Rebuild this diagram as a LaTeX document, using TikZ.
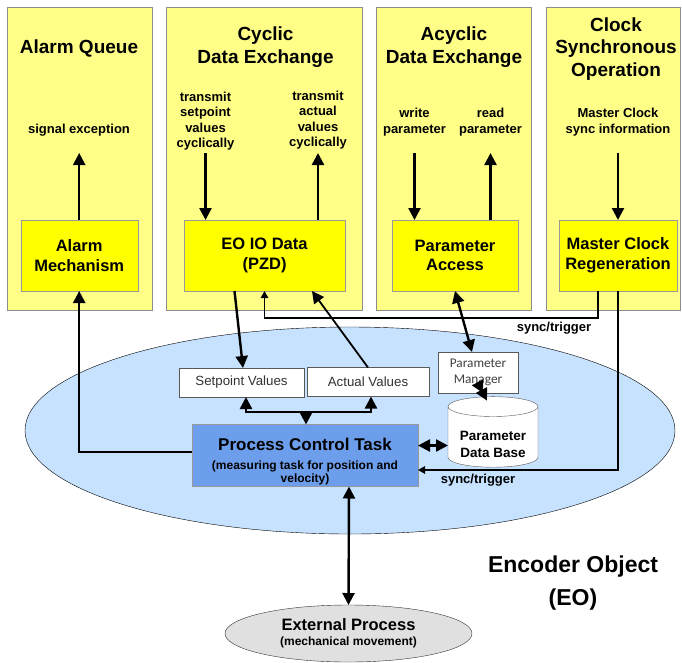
\documentclass[tikz,border=0pt]{standalone}
\usepackage{fontspec}
\setmainfont{Liberation Sans}
\newfontfamily\calfont{Carlito}
\usepackage{xcolor}
\usepackage{tikz}
\usetikzlibrary{arrows.meta,shapes.geometric}

\definecolor{colyellow}{HTML}{FFFF88}
\definecolor{boxyellow}{HTML}{FFFF00}
\definecolor{eoblue}{HTML}{C6E2FF}
\definecolor{taskblue}{HTML}{6D9EEB}
\definecolor{extgray}{HTML}{E0E0E0}

\begin{document}
\begin{tikzpicture}[
  x=1pt, y=-1pt,
  >={Triangle[length=12pt, width=12pt]},
  every node/.style={align=center, inner sep=0pt, outer sep=0pt},
  column/.style={draw=black!45, fill=colyellow, anchor=north west, minimum height=303pt},
  title/.style={font=\fontsize{19}{22.5}\selectfont\bfseries},
  hint/.style={font=\fontsize{13}{15.5}\selectfont\bfseries},
  block/.style={draw=black!40, fill=boxyellow, minimum height=71pt, font=\fontsize{16.5}{19.5}\selectfont\bfseries},
  valbox/.style={draw=black!65, fill=white, minimum height=29pt, text=black!80, font=\fontsize{13.3}{16}\selectfont},
  arrow/.style={->, line width=2.4pt},
  sync/.style={->, line width=1.4pt, >={Triangle[length=7pt, width=7.5pt]}}
]
\useasboundingbox (0,0) rectangle (682,662);

% columns
\node[column, minimum width=145pt] (qcol) at (7,7) {};
\node[column, minimum width=196pt] (ccol) at (166,7) {};
\node[column, minimum width=155pt] (acol) at (376,7) {};
\node[column, minimum width=134pt] (scol) at (546,7) {};

\node[title] (qtitle) at (79,48) {Alarm Queue};
\node[title] (ctitle) at (265.5,47) {Cyclic\\Data Exchange};
\node[title] (atitle) at (454,47) {Acyclic\\Data Exchange};
\node[title] (stitle) at (616,49) {Clock\\Synchronous\\Operation};

\node[hint] (sigexc) at (79,130) {signal exception};
\node[hint] (txset) at (205.5,121) {transmit\\setpoint\\values\\cyclically};
\node[hint] (txact) at (318,120) {transmit\\actual\\values\\cyclically};
\node[hint] (wpar) at (414.5,122) {write\\parameter};
\node[hint] (rpar) at (490.5,122) {read\\parameter};
\node[hint] (mcinfo) at (618,122) {Master Clock\\sync information};

\node[block, minimum width=117pt] (alarm) at (79.2,255.5) {Alarm\\Mechanism};
\node[block, minimum width=161pt] (eoio) at (264.5,255.5) {EO IO Data\\(PZD)};
\node[block, minimum width=126pt] (pacc) at (455,255.5) {Parameter\\Access};
\node[block, minimum width=118pt] (mclk) at (618,255.5) {Master Clock\\Regeneration};

\coordinate (lvl) at (0,153);

% encoder object
\node[draw, ellipse, fill=eoblue, minimum width=650pt, minimum height=207pt] (eo) at (350,430.5) {};
\node[font=\fontsize{23}{33}\selectfont\bfseries] (eolbl) at (573,583) {Encoder Object\\(EO)};

\node[valbox, minimum width=125pt] (setv) at (241.5,382.5) {Setpoint Values};
\node[valbox, minimum width=122pt] (actv) at (368,382) {Actual Values};
\node[draw=black!65, fill=white, minimum width=80pt, minimum height=41pt, text=black!75,
  font=\calfont\fontsize{13.3}{16}\selectfont] (pman) at (478,372.5) {Parameter\\Manager};
\node[draw=black!65, fill=white, cylinder, shape border rotate=90, aspect=0.3,
  minimum width=90pt, minimum height=58pt, font=\fontsize{13.5}{16.5}\selectfont\bfseries] (pdb) at (493,437)
  {\rule{0pt}{24pt}Parameter\\Data Base};
\node[draw=black!40, fill=taskblue, minimum width=226pt, minimum height=62pt,
  font=\fontsize{12}{13}\selectfont\bfseries] (pct) at (305,455.5)
  {\rule{0pt}{25pt}{\fontsize{17}{19}\selectfont Process Control Task}\\[6pt]
   (measuring task for position and\\velocity)};

\node[draw=black!80, ellipse, fill=extgray, minimum width=247pt, minimum height=57pt,
  font=\fontsize{12}{13}\selectfont\bfseries] (ext) at (348.5,633.5)
  {{\fontsize{16.5}{17}\selectfont External Process}\\[2pt]
   (mechanical movement)};

% column arrows
\draw[arrow] (alarm.north) -- (alarm.north |- lvl);
\draw[arrow] (txset.south |- lvl) -- (txset.south |- eoio.north);
\draw[arrow] (txact.south |- eoio.north) -- (txact.south |- lvl);
\draw[arrow] (wpar.south |- lvl) -- (wpar.south |- pacc.north);
\draw[arrow] (rpar.south |- pacc.north) -- (rpar.south |- lvl);
\draw[arrow] (mcinfo.south |- lvl) -- (mcinfo.south |- mclk.north);

% links to the encoder object
\draw[arrow] ([yshift=3.5pt]pct.west) -| (alarm.south);
\draw[arrow] ([xshift=-30pt]eoio.south) -- ([xshift=1.5pt]setv.north);
\draw[arrow, line width=1.8pt] (actv.north) -- ([xshift=47.5pt]eoio.south);
\draw[arrow, <->] (pacc.south) -- ([xshift=-6pt]pman.north);
\draw[arrow, <->] ([xshift=5pt]pman.south) -- ([xshift=-6pt, yshift=-4pt]pdb.north);
\draw[arrow, <->] ([yshift=10pt]pct.east) -- ([yshift=10pt]pct.east -| pdb.west);

\coordinate (bus) at (306,412);
\draw[arrow, <->] ([xshift=4.5pt]setv.south) |- (bus) -| ([xshift=3pt]actv.south);
\draw[arrow] (bus) -- (bus |- pct.north);
\draw[arrow, <->] ([xshift=44pt]pct.south) -- (ext.north);

% sync/trigger
\draw[sync] ([xshift=-20pt]mclk.south) |- ([yshift=-27pt]eoio.south) -- (eoio.south);
\node[hint] (sync1) at (554,328) {sync/trigger};
\draw[sync] (mclk.south) |- ([yshift=-14.5pt]pct.east);
\node[hint] (sync2) at (478,480) {sync/trigger};

\end{tikzpicture}
\end{document}
